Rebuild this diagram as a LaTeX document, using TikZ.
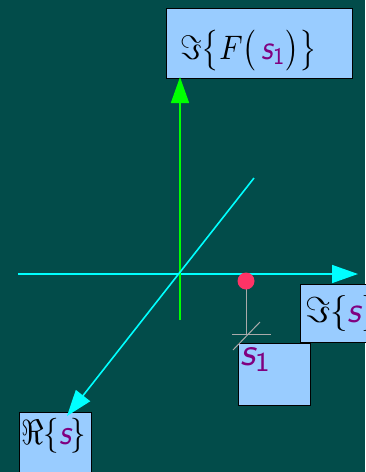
\documentclass[tikz,border=0pt]{standalone}
\usepackage{graphicx}
\usetikzlibrary{arrows.meta}
\definecolor{bg}{HTML}{024C4A}
\definecolor{boxfill}{HTML}{99CCFF}
\definecolor{axcyan}{HTML}{00FFFF}
\definecolor{axgreen}{HTML}{00FF00}
\definecolor{dotred}{HTML}{FF3366}
\definecolor{purp}{HTML}{800080}
\definecolor{tickgray}{HTML}{AAAAAA}
\newcommand{\sv}{\textcolor{purp}{\mbox{\sffamily\itshape s}}}
\newcommand{\svone}{\textcolor{purp}{\mbox{\sffamily\itshape s}_{\mbox{\sffamily\scriptsize 1}}}}
\begin{document}
\begin{tikzpicture}[x=1pt,y=-1pt,
  lbox/.style={draw=black,fill=boxfill,line width=0.8pt,inner sep=0pt,anchor=north west},
  ltext/.style={inner sep=0pt},
  axis/.style={line width=1.6pt,-{Triangle[length=26pt,width=18pt]}}]
\fill[bg] (0,0) rectangle (365,472);
\useasboundingbox (0,0) rectangle (365,472);
% coordinates
\coordinate (hstart) at (18,274);
\coordinate (hend) at (358,274);
\coordinate (vstart) at (180,320);
\coordinate (vend) at (180,77);
\coordinate (dstart) at (254,178);
\coordinate (dend) at (67,416);
% boxes
\node[lbox,minimum width=186pt,minimum height=70pt] (topbox) at (166,8) {};
\node[lbox,minimum width=70pt,minimum height=58pt] (rightbox) at (300,284) {};
\node[lbox,minimum width=72pt,minimum height=62pt] (s1box) at (238,343) {};
\node[lbox,minimum width=72pt,minimum height=65pt] (rebox) at (19,412) {};
% axes
\draw[axis,axcyan] (hstart) -- (hend);
\draw[axis,axgreen] (vstart) -- (vend);
\draw[axis,axcyan] (dstart) -- (dend);
% texts
\node[ltext,anchor=west] (toptext) at (180,51) {\scalebox{3.0}[3.4]{$\Im\big\{F\big(\,\svone\big)\big\}$}};
\node[ltext,anchor=west] (righttext) at (305,313) {\scalebox{3.5}[3.6]{$\Im\{\sv\}$}};
\node[ltext,anchor=north west] (s1text) at (240,347) {\scalebox{3.9}{$\svone$}};
\node[ltext,anchor=west] (retext) at (21,436) {\scalebox{3.1}[3.5]{$\Re\{\sv\}$}};
% marker
\coordinate (mtop) at (246,281);
\coordinate (mbot) at (246,334);
\coordinate (tl) at (232,334);
\coordinate (tr) at (271,334);
\coordinate (ta) at (233,350);
\coordinate (tb) at (260,322);
\draw[tickgray,line width=1pt] (mtop) -- (mbot);
\draw[tickgray,line width=1pt] (tl) -- (tr);
\draw[tickgray,line width=1pt] (ta) -- (tb);
\fill[dotred] (mtop) circle (8.5pt);
\end{tikzpicture}
\end{document}
